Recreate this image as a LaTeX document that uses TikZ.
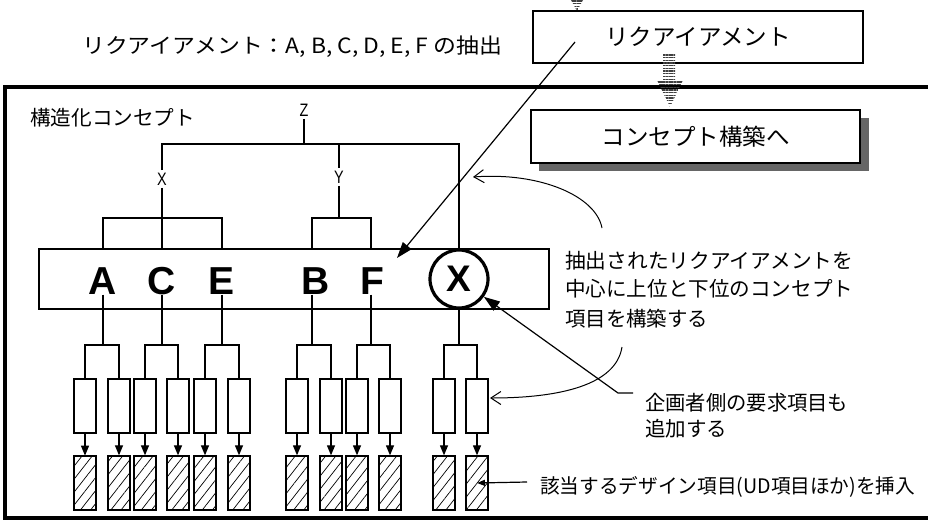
\documentclass[tikz,border=0pt]{standalone}
\usepackage{graphicx}
\usepackage{fontspec}
\setmainfont{Liberation Sans}
\newfontfamily\jpfont{Noto Sans CJK JP}
\newfontfamily\narrowfont[FakeStretch=0.8]{Liberation Sans}
\newfontfamily\letterfont[BoldFont={Liberation Sans Bold}]{Liberation Sans}
\newcommand{\wfit}[2]{\resizebox{#1}{\height}{#2}}
\usetikzlibrary{arrows.meta,patterns.meta}
\begin{document}
\begin{tikzpicture}[x=1pt,y=-1pt,
  jp/.style={font=\jpfont\fontsize{20.5}{29}\selectfont, inner sep=0pt, anchor=base west},
  jpbig/.style={font=\jpfont\fontsize{23}{28}\selectfont},
  lab/.style={font=\narrowfont\fontsize{18}{18}\selectfont, inner sep=2.5pt},
  letter/.style={font=\letterfont\bfseries\fontsize{39}{39}\selectfont, inner sep=0pt},
  topbox/.style={draw, line width=1.2pt, inner sep=0pt, fill=white},
  cbox/.style={draw, line width=1.3pt, inner sep=0pt, minimum width=22pt, minimum height=54pt},
  hbox/.style={cbox, pattern={Lines[angle=52,distance=8pt,line width=0.7pt]}},
  ln/.style={line width=1.2pt},
  stripes/.style={pattern={Lines[angle=0,distance=2.7pt,line width=1.3pt]}, pattern color=black!75},
  openarr/.style={line width=1pt, -{Straight Barb[length=10pt,width=13pt,line width=1pt]}},
  fillarr/.style={line width=1.2pt, -{Triangle[length=16pt,width=11pt]}},
  smallarr/.style={line width=1.2pt, -{Triangle[length=10pt,width=8pt]}}
]
\useasboundingbox (0,0) rectangle (928,522);

% outer frame
\draw[line width=4.2pt] (932,87) -- (5,87) -- (5,518) -- (932,518);

% top boxes
\node[topbox, minimum width=330pt, minimum height=52pt, jpbig] (rq) at (698,37) {\wfit{186pt}{リクアイアメント}};
\fill[black!60] (539,118) rectangle (869,171);
\node[topbox, minimum width=329pt, minimum height=53pt, jpbig] (cc) at (695.5,136.5) {\wfit{188pt}{コンセプト構築へ}};

% striped arrows
\fill[stripes] (571,0) -- (583,0) -- (577,11) -- cycle;
\fill[stripes] (663,53) -- (675,53) -- (675,80) -- (683,80) -- (670,107) -- (657,80) -- (663,80) -- cycle;

% texts
\node[jp, font=\jpfont\fontsize{21}{26}\selectfont] (t1) at (82,53) {\wfit{420pt}{リクアイアメント：A, B, C, D, E, F の抽出}};
\node[jp] (t2) at (30,125) {\wfit{165pt}{構造化コンセプト}};
\node[jp] (t3a) at (565,268) {\wfit{288pt}{抽出されたリクアイアメントを}};
\node[jp] (t3b) at (565,296) {\wfit{288pt}{中心に上位と下位のコンセプト}};
\node[jp] (t3c) at (565,326) {\wfit{143pt}{項目を構築する}};
\node[jp] (t4a) at (645,410) {\wfit{203pt}{企画者側の要求項目も}};
\node[jp] (t4b) at (645,436) {追加する};
\node[jp, font=\jpfont\fontsize{20}{26}\selectfont] (t5) at (540,493) {\wfit{375pt}{該当するデザイン項目(UD項目ほか)を挿入}};

% concept box
\node[draw, line width=1.3pt, minimum width=510pt, minimum height=60pt, inner sep=0pt] (cb) at (294,279) {};

% upper labels
\node[lab] (Z) at (304,110) {Z};
\node[lab] (Xl) at (162,179) {X};
\node[lab] (Yl) at (339,177) {Y};
\coordinate (zb) at (304,144);
\coordinate (xt) at (162,144);
\coordinate (yt) at (339,144);
\coordinate (xb) at (162,218);
\coordinate (yb) at (339,218);

% letters
\node[letter] (LA) at (103,281) {A};
\node[letter] (LC) at (162,281) {C};
\node[letter] (LE) at (222,281) {E};
\node[letter] (LB) at (316,281) {B};
\node[letter] (LF) at (372,281) {F};
\node[circle, draw, line width=3.2pt, minimum size=58pt, inner sep=0pt, font=\letterfont\bfseries\fontsize{37}{37}\selectfont] (LX) at (459,279) {X};

\coordinate (pA) at (103,345);
\coordinate (pC) at (162,345);
\coordinate (pE) at (222,345);
\coordinate (pB) at (312,345);
\coordinate (pF) at (371,345);
\coordinate (pX) at (459,345);

% upper hierarchy
\draw[ln] (Z.south) -- (zb);
\draw[ln] (Xl.north) -- (xt) -- (pX |- xt) -- (LX.north);
\draw[ln] (yt) -- (Yl.north);
\draw[ln] (Xl.south) -- (xb);
\draw[ln] (Yl.south) -- (yb);
\draw[ln] (pA |- cb.north) |- (pE |- xb) -- (pE |- cb.north);
\draw[ln] (xb) -- (pC |- cb.north);
\draw[ln] (pB |- cb.north) |- (pF |- yb) -- (pF |- cb.north);

% lower hierarchy
\foreach \g/\l/\r in {A/85/119, C/145/178, E/205/239, B/297/331, F/357/390, X/444/477}{
  \node[cbox] (c\g1) at (\l,406) {};
  \node[cbox] (c\g2) at (\r,406) {};
  \node[hbox] (h\g1) at (\l,483) {};
  \node[hbox] (h\g2) at (\r,483) {};
  \draw[ln] (L\g.south -| p\g) -- (p\g);
  \draw[ln] (c\g1.north) |- (p\g) -| (c\g2.north);
  \draw[smallarr] (c\g1.south) -- (h\g1.north);
  \draw[smallarr] (c\g2.south) -- (h\g2.north);
}

% annotations
\coordinate (ls) at (575,42);
\coordinate (le) at (397,258);
\draw[fillarr] (ls) -- (le);

\coordinate (a1s) at (602,228);
\coordinate (a1e) at (473,177);
\draw[openarr] (a1s) .. controls (596,196) and (540,172) .. (a1e);

\coordinate (a2s) at (622,347);
\coordinate (a2e) at (490,398);
\draw[openarr] (a2s) .. controls (616,385) and (560,398) .. (a2e);

\coordinate (k1) at (633,393);
\coordinate (k2) at (618,393);
\draw[fillarr] (k1) -- (k2) -- (LX);

\coordinate (k3) at (527,482);
\draw[line width=1.2pt, -{Triangle[length=8pt,width=6pt]}] (k3) -- (hX2.center);
\end{tikzpicture}
\end{document}
